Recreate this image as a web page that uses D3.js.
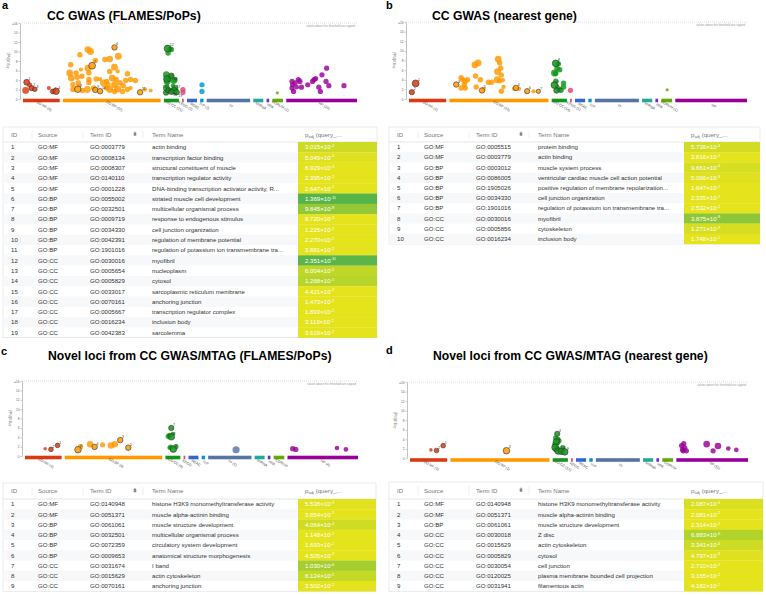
<!DOCTYPE html>
<html><head><meta charset="utf-8">
<script src="https://cdn.jsdelivr.net/npm/d3@7"></script>
<style>body{margin:0;background:#fff}svg{display:block}</style>
</head><body>
<svg id="fig" width="766" height="595"></svg>
<script>
// ================= DATA =================
const sources = ["GO:MF","GO:BP","GO:CC","KEGG","REAC","WP","TF","MIRNA","HPA","CORUM","HP"];
const yTicks = [0,2,4,6,8,10,12,14,16];
const yTickLabels = ["0","2","4","6","8","10","12","14","≥16"];
const headers = ["ID","Source","Term ID","Term Name"];

// ---- panel a ----
const titleA = "CC GWAS (FLAMES/PoPs)";
const srcA = ["GO:MF","GO:MF","GO:MF","GO:MF","GO:MF","GO:BP","GO:BP","GO:BP","GO:BP","GO:BP","GO:BP","GO:CC","GO:CC","GO:CC","GO:CC","GO:CC","GO:CC","GO:CC","GO:CC"];
const termIdA = ["GO:0003779","GO:0008134","GO:0008307","GO:0140110","GO:0001228","GO:0055002","GO:0032501","GO:0009719","GO:0034330","GO:0042391","GO:1901016","GO:0030016","GO:0005654","GO:0005829","GO:0033017","GO:0070161","GO:0005667","GO:0016234","GO:0042383"];
const termNameA = ["actin binding","transcription factor binding","structural constituent of muscle","transcription regulator activity","DNA-binding transcription activator activity, R...","striated muscle cell development","multicellular organismal process","response to endogenous stimulus","cell junction organization","regulation of membrane potential","regulation of potassium ion transmembrane tra...","myofibril","nucleoplasm","cytosol","sarcoplasmic reticulum membrane","anchoring junction","transcription regulator complex","inclusion body","sarcolemma"];
const padjA = [[3.015,-4],[5.049,-3],[8.929,-3],[2.395,-2],[2.647,-2],[1.369,-11],[9.845,-8],[8.720,-3],[1.225,-2],[2.270,-2],[3.881,-2],[2.351,-11],[6.004,-5],[1.268,-5],[4.421,-2],[1.473,-2],[1.893,-2],[3.119,-2],[3.619,-2]];
// [source, order within source (0-1), -log10(padj) or null = from table, term size, table ID]
const pointsA = [
 ["GO:MF",0.02,1.8,2000,0],["GO:MF",0.05,null,600,1],["GO:MF",0.14,3.0,300,0],["GO:MF",0.2,null,300,2],["GO:MF",0.3,null,150,3],["GO:MF",0.73,2.3,80,0],["GO:MF",0.85,null,200,5],["GO:MF",0.95,null,1500,4],
 ["GO:BP",.246,10.4,2000,0],["GO:BP",.273,10.0,2000,0],["GO:BP",.529,null,400,6],["GO:BP",.57,9.0,2000,0],["GO:BP",.478,8.4,1500,0],["GO:BP",.427,8.3,400,0],["GO:BP",.16,9.3,400,0],["GO:BP",.324,8.1,400,0],["GO:BP",.29,null,2000,7],["GO:BP",.246,6.5,2000,0],["GO:BP",.529,6.7,2000,0],["GO:BP",.061,7.2,400,0],["GO:BP",.051,5.5,2000,0],["GO:BP",.119,5.5,400,0],["GO:BP",.256,5.5,400,0],["GO:BP",.171,6.2,100,0],["GO:BP",.478,5.8,400,0],["GO:BP",.563,5.8,100,0],["GO:BP",.666,5.3,400,0],["GO:BP",.068,4.4,2000,0],["GO:BP",.13,4.6,400,0],["GO:BP",.181,4.8,400,0],["GO:BP",.256,4.1,400,0],["GO:BP",.334,4.2,400,0],["GO:BP",.375,4.2,100,0],["GO:BP",.444,3.7,400,0],["GO:BP",.505,4.4,2000,0],["GO:BP",.546,4.1,400,0],["GO:BP",.648,3.9,400,0],["GO:BP",.7,4.1,400,0],["GO:BP",.751,3.9,400,0],["GO:BP",.085,3.0,400,0],["GO:BP",.143,3.4,400,0],["GO:BP",.256,3.5,400,0],["GO:BP",.41,3.4,2000,0],["GO:BP",.461,3.0,400,0],["GO:BP",.529,3.0,2000,0],["GO:BP",.587,3.4,400,0],["GO:BP",.621,2.8,400,0],["GO:BP",.137,null,1500,8],["GO:BP",.085,2.0,400,0],["GO:BP",.188,1.8,400,0],["GO:BP",.239,2.0,2000,0],["GO:BP",.307,2.3,400,0],["GO:BP",.324,null,400,9],["GO:BP",.375,null,400,10],["GO:BP",.444,2.3,400,0],["GO:BP",.478,2.0,2000,0],["GO:BP",.529,1.6,400,0],["GO:BP",.563,2.1,2000,0],["GO:BP",.614,1.6,400,0],["GO:BP",.666,2.0,400,0],["GO:BP",.7,2.3,100,0],["GO:BP",.802,null,400,11],["GO:BP",.853,2.0,100,0],["GO:BP",.915,1.8,60,0],["GO:BP",.147,2.8,100,0],
 ["GO:CC",.156,null,2000,12],["GO:CC",.378,10.5,400,0],["GO:CC",.2,9.7,400,0],["GO:CC",.49,10.4,400,0],["GO:CC",.044,5.1,2000,0],["GO:CC",.1,null,2000,13],["GO:CC",.5,null,400,14],["GO:CC",.111,3.7,2000,0],["GO:CC",.267,4.1,400,0],["GO:CC",.711,3.9,2000,0],["GO:CC",.822,4.1,400,0],["GO:CC",.044,2.3,2000,0],["GO:CC",.156,1.8,400,0],["GO:CC",.02,null,400,15],["GO:CC",.25,null,400,16],["GO:CC",.75,null,2000,17],["GO:CC",.5,null,400,18],["GO:CC",.98,null,400,19],["GO:CC",.822,2.3,2000,0],["GO:CC",.644,2.8,100,0],["GO:CC",.111,2.8,100,0],
 ["KEGG",.5,2.0,300,0],["KEGG",.5,1.4,300,0],["WP",.3,3.0,300,0],["WP",.3,1.6,300,0],["CORUM",.44,1.3,30,0],
 ["HP",.057,3.7,300,0],["HP",.066,3.0,300,0],["HP",.057,2.3,300,0],["HP",.08,1.6,300,0],["HP",.104,3.4,300,0],["HP",.127,2.5,150,0],["HP",.151,4.1,300,0],["HP",.175,3.7,300,0],["HP",.198,2.5,300,0],["HP",.292,3.0,300,0],["HP",.363,3.7,300,0],["HP",.387,4.1,300,0],["HP",.41,4.3,300,0],["HP",.458,2.5,300,0],["HP",.481,1.6,300,0],["HP",.505,5.1,300,0],["HP",.575,6.5,300,0],["HP",.566,3.7,300,0],["HP",.608,2.8,300,0],["HP",.835,2.8,300,0]
];

// ---- panel b ----
const titleB = "CC GWAS (nearest gene)";
const srcB = ["GO:MF","GO:MF","GO:BP","GO:BP","GO:BP","GO:BP","GO:BP","GO:CC","GO:CC","GO:CC"];
const termIdB = ["GO:0005515","GO:0003779","GO:0003012","GO:0086005","GO:1905026","GO:0034330","GO:1901016","GO:0030016","GO:0005856","GO:0016234"];
const termNameB = ["protein binding","actin binding","muscle system process","ventricular cardiac muscle cell action potential","positive regulation of membrane repolarization...","cell junction organization","regulation of potassium ion transmembrane tra...","myofibril","cytoskeleton","inclusion body"];
const padjB = [[5.736,-4],[3.816,-2],[9.661,-4],[5.066,-3],[1.647,-2],[2.335,-2],[2.532,-2],[3.875,-8],[1.271,-3],[1.748,-2]];
const pointsB = [
 ["GO:MF",.026,null,300,2],["GO:MF",.14,null,2000,1],
 ["GO:BP",.051,null,400,3],["GO:BP",.102,4.4,400,0],["GO:BP",.119,4.0,400,0],["GO:BP",.146,3.7,400,0],["GO:BP",.169,4.0,400,0],["GO:BP",.136,3.0,400,0],["GO:BP",.102,2.3,400,0],["GO:BP",.146,2.3,400,0],["GO:BP",.247,7.1,2000,0],["GO:BP",.281,7.5,2000,0],["GO:BP",.254,4.8,400,0],["GO:BP",.305,4.0,400,0],["GO:BP",.261,2.5,400,0],["GO:BP",.322,null,400,5],["GO:BP",.339,2.1,100,0],["GO:BP",.39,3.5,400,0],["GO:BP",.424,3.5,400,0],["GO:BP",.492,8.3,2000,0],["GO:BP",.508,7.5,400,0],["GO:BP",.519,6.4,400,0],["GO:BP",.485,5.7,2000,0],["GO:BP",.525,5.0,400,0],["GO:BP",.481,4.0,2000,0],["GO:BP",.508,3.8,400,0],["GO:BP",.542,3.9,100,0],["GO:BP",.525,1.6,400,0],["GO:BP",.549,2.5,100,0],["GO:BP",.678,null,400,4],["GO:BP",.661,2.1,100,0],["GO:BP",.712,2.1,100,0],["GO:BP",.797,null,300,6],["GO:BP",.864,1.6,100,0],["GO:BP",.915,null,100,7],
 ["GO:CC",.186,null,2000,8],["GO:CC",.419,7.3,400,0],["GO:CC",.302,6.4,400,0],["GO:CC",.535,6.1,400,0],["GO:CC",.07,5.4,2000,0],["GO:CC",.186,5.3,400,0],["GO:CC",.07,null,2000,9],["GO:CC",.186,3.7,400,0],["GO:CC",.302,2.6,100,0],["GO:CC",.25,null,400,10],["GO:CC",.5,1.9,400,0],["GO:CC",.651,1.8,400,0],["GO:CC",.884,2.5,400,0],["GO:CC",.884,3.3,400,0],
 ["KEGG",.7,1.8,300,0],["CORUM",.57,1.9,30,0]
];

// ---- panel c ----
const titleC = "Novel loci from CC GWAS/MTAG (FLAMES/PoPs)";
const srcC = ["GO:MF","GO:MF","GO:BP","GO:BP","GO:BP","GO:BP","GO:CC","GO:CC","GO:CC"];
const termIdC = ["GO:0140948","GO:0051371","GO:0061061","GO:0032501","GO:0072359","GO:0009653","GO:0031674","GO:0015629","GO:0070161"];
const termNameC = ["histone H3K9 monomethyltransferase activity","muscle alpha-actinin binding","muscle structure development","multicellular organismal process","circulatory system development","anatomical structure morphogenesis","I band","actin cytoskeleton","anchoring junction"];
const padjC = [[5.538,-3],[3.854,-2],[4.064,-4],[1.148,-2],[1.693,-2],[4.505,-2],[1.030,-6],[8.124,-5],[3.502,-2]];
const pointsC = [
 ["GO:MF",.558,1.55,40,0],["GO:MF",.735,null,150,2],["GO:MF",.938,null,150,1],
 ["GO:BP",.12,null,1500,6],["GO:BP",.147,2.0,300,0],["GO:BP",.25,2.5,1500,0],["GO:BP",.298,null,400,4],["GO:BP",.384,2.4,300,0],["GO:BP",.473,2.25,1500,0],["GO:BP",.514,2.5,1500,0],["GO:BP",.572,null,400,3],["GO:BP",.658,null,400,5],
 ["GO:CC",.349,null,300,7],["GO:CC",.186,4.4,300,0],["GO:CC",.349,null,1500,8],["GO:CC",.07,4.2,300,0],["GO:CC",.488,4.7,100,0],["GO:CC",.302,1.9,300,0],["GO:CC",.535,null,1500,9],["GO:CC",.767,2.0,300,0],["GO:CC",.186,1.76,100,0],
 ["TF",.66,1.34,3000,0],
 ["HP",.048,1.55,300,0],["HP",.095,1.4,300,0],["HP",.714,1.7,150,0],["HP",.848,1.4,150,0]
];

// ---- panel d ----
const titleD = "Novel loci from CC GWAS/MTAG (nearest gene)";
const srcD = ["GO:MF","GO:MF","GO:BP","GO:CC","GO:CC","GO:CC","GO:CC","GO:CC","GO:CC"];
const termIdD = ["GO:0140948","GO:0051371","GO:0061061","GO:0030018","GO:0015629","GO:0005829","GO:0030054","GO:0120025","GO:0031941"];
const termNameD = ["histone H3K9 monomethyltransferase activity","muscle alpha-actinin binding","muscle structure development","Z disc","actin cytoskeleton","cytosol","cell junction","plasma membrane bounded cell projection","filamentous actin"];
const padjD = [[2.087,-3],[2.081,-2],[2.314,-2],[6.883,-6],[3.341,-4],[4.797,-3],[2.710,-2],[3.165,-2],[4.182,-2]];
const pointsD = [
 ["GO:MF",.57,1.8,40,0],["GO:MF",.737,null,150,2],["GO:MF",.939,null,150,1],
 ["GO:BP",.569,null,1500,3],
 ["GO:CC",.227,null,300,4],["GO:CC",.09,4.3,300,0],["GO:CC",.273,4.0,300,0],["GO:CC",.159,null,1500,5],["GO:CC",.386,3.7,300,0],["GO:CC",.02,3.0,300,0],["GO:CC",.045,null,2000,6],["GO:CC",.227,2.1,300,0],["GO:CC",.3,null,1500,7],["GO:CC",.6,null,1500,8],["GO:CC",.9,null,1500,9],["GO:CC",.727,2.3,300,0],["GO:CC",.09,1.9,300,0],
 ["HP",.048,2.7,300,0],["HP",.062,1.9,300,0],["HP",.071,1.6,300,0],["HP",.095,2.2,300,0],["HP",.119,1.6,300,0],["HP",.081,3.1,300,0],["HP",.419,3.0,1500,0],["HP",.514,1.6,300,0],["HP",.586,2.6,1500,0],["HP",.738,2.1,150,0],["HP",.857,1.8,150,0]
];

// ================= LAYOUT / STYLE =================
const FONT = "'Liberation Sans', Arial, Helvetica, sans-serif";
const sourceWeights = [110,293,45,5,30,10,130,30,8,32,212];
const sourceColors = {"GO:MF":"#dc3912","GO:BP":"#ff9900","GO:CC":"#109618","KEGG":"#dd4477","REAC":"#3366cc","WP":"#0099c6","TF":"#5574a6","MIRNA":"#22aa99","HPA":"#6633cc","CORUM":"#66aa00","HP":"#990099"};

const panels = [
 {key:"a", title:titleA, src:srcA, tid:termIdA, tname:termNameA, padj:padjA, pts:pointsA,
  letter:[2,8.5], titleXY:[47,20], plot:{x0:20, x1:357, top:23, zero:99},
  table:{x:3, y:127, w:374, head:15, row:10.3}},
 {key:"b", title:titleB, src:srcB, tid:termIdB, tname:termNameB, padj:padjB, pts:pointsB,
  letter:[386,8.5], titleXY:[432,20], plot:{x0:406, x1:747, top:22, zero:99},
  table:{x:389, y:127, w:371, head:15, row:10.2}},
 {key:"c", title:titleC, src:srcC, tid:termIdC, tname:termNameC, padj:padjC, pts:pointsC,
  letter:[1,355], titleXY:[48,360], plot:{x0:22, x1:358, top:381, zero:456},
  table:{x:3, y:483, w:373, head:16, row:10.25}},
 {key:"d", title:titleD, src:srcD, tid:termIdD, tname:termNameD, padj:padjD, pts:pointsD,
  letter:[386,354], titleXY:[433,360], plot:{x0:407, x1:748, top:382, zero:458.5},
  table:{x:389, y:482, w:374, head:17, row:10.25}}
];

const svg = d3.select("#fig");
svg.append("rect").attr("width",766).attr("height",595).attr("fill","#fff");

const rScale = d3.scaleLog().domain([10,5000]).range([1.2,3.8]).clamp(true);
const cellColor = d3.scaleLinear().domain([2,11]).range(["#e5e31c","#55b34a"]).clamp(true);
const negLog = pm => -Math.log10(pm[0]*Math.pow(10,pm[1]));

function drawPlot(p){
  const g = svg.append("g");
  g.append("text").attr("x",p.letter[0]).attr("y",p.letter[1]).text(p.key)
    .attr("font-family",FONT).attr("font-weight","bold").attr("font-size",11).attr("fill","#000");
  g.append("text").attr("x",p.titleXY[0]).attr("y",p.titleXY[1]).text(p.title)
    .attr("font-family",FONT).attr("font-weight","bold").attr("font-size",12.2).attr("fill","#000");

  const P = p.plot;
  const y = d3.scaleLinear().domain([0,16]).range([P.zero, P.top]);
  const ax = d3.axisLeft(y).tickValues(yTicks).tickFormat((d,i)=>yTickLabels[i]).tickSize(1.5).tickSizeOuter(0).tickPadding(1);
  const axg = g.append("g").attr("transform",`translate(${P.x0},0)`).call(ax);
  axg.select(".domain").attr("stroke","#888").attr("stroke-width",0.5);
  axg.selectAll(".tick line").attr("stroke","#888").attr("stroke-width",0.5);
  axg.selectAll(".tick text").attr("font-size",3.2).attr("fill","#666").attr("font-family",FONT);

  const yl = g.append("text").attr("transform",`translate(${P.x0-11},${(P.top+P.zero)/2}) rotate(-90)`)
    .attr("text-anchor","middle").attr("font-family",FONT).attr("font-size",3.6).attr("fill","#666");
  yl.append("tspan").text("-log");
  yl.append("tspan").attr("font-size",2.6).attr("dy",0.8).text("10");
  yl.append("tspan").attr("dy",-0.8).text("(p");
  yl.append("tspan").attr("font-size",2.6).attr("dy",0.8).text("adj");
  yl.append("tspan").attr("dy",-0.8).text(")");

  const bx0 = P.x0+3, gap = 3.2;
  const avail = P.x1 - bx0 - gap*(sources.length-1);
  const wsum = d3.sum(sourceWeights);
  const bands = {}; let cur = bx0;
  sources.forEach((s,i)=>{ const w = sourceWeights[i]/wsum*avail; bands[s] = {x:cur,w:w}; cur += w+gap; });

  g.append("line").attr("x1",P.x0).attr("x2",P.x1).attr("y1",y(16)).attr("y2",y(16))
    .attr("stroke","#bbb").attr("stroke-width",0.5).attr("stroke-dasharray","1,1");
  g.append("text").attr("x",P.x1-2).attr("y",y(16)+3.6).attr("text-anchor","end")
    .attr("font-family",FONT).attr("font-size",2.8).attr("fill","#999").text("values above this threshold are capped");

  const counts = d3.rollup(p.pts, v=>v.length, d=>d[0]);
  sources.forEach(s=>{
    const b = bands[s];
    g.append("rect").attr("x",b.x).attr("y",P.zero-0.3).attr("width",b.w).attr("height",3.6).attr("fill",sourceColors[s]);
    const n = counts.get(s)||0;
    g.append("text").attr("transform",`translate(${b.x+b.w/2+2},${P.zero+8}) rotate(30)`)
      .attr("text-anchor","middle").attr("font-family",FONT).attr("font-size",3.6).attr("fill","#555")
      .text(n>0 ? `${s} (${n})` : s);
  });

  const tableVals = p.padj.map(negLog);
  const pts = p.pts.map(d=>{
    const b = bands[d[0]];
    const xs = d3.scaleLinear().domain([0,1]).range([b.x+2, b.x+b.w-2]);
    const v = d[2]!=null ? d[2] : tableVals[d[4]-1];
    return {src:d[0], x:xs(d[1]), y:y(Math.min(v,16)), r:rScale(d[3]), id:d[4]};
  });
  const normal = pts.filter(d=>!d.id), hl = pts.filter(d=>d.id);
  g.selectAll(null).data(normal).enter().append("circle")
    .attr("cx",d=>d.x).attr("cy",d=>d.y).attr("r",d=>d.r)
    .attr("fill",d=>sourceColors[d.src]).attr("fill-opacity",0.82);
  g.selectAll(null).data(hl).enter().append("circle")
    .attr("cx",d=>d.x).attr("cy",d=>d.y).attr("r",d=>d.r)
    .attr("fill",d=>sourceColors[d.src]).attr("fill-opacity",0.85)
    .attr("stroke","#333").attr("stroke-width",0.6);

  // labels with simple collision avoidance
  const lfs = 3.4, placed = [];
  hl.sort((a,b)=>a.id-b.id).forEach(d=>{
    const w = String(d.id).length*lfs*0.56, h = lfs*0.75;
    const k = d.r*0.6;
    const cands = [[d.x+k+0.2, d.y-k-0.3],[d.x-k-0.2-w, d.y-k-0.3],[d.x+k+0.2, d.y+k+h+0.3],[d.x-k-0.2-w, d.y+k+h+0.3],
                   [d.x+k+0.2, d.y-k-0.3-h-0.5],[d.x-k-0.2-w, d.y-k-0.3-h-0.5],[d.x+d.r+0.4, d.y+h/2],[d.x-d.r-0.4-w, d.y+h/2]];
    let best = cands[0];
    for(const c of cands){
      const box = {x0:c[0]-0.2, x1:c[0]+w+0.2, y0:c[1]-h-0.2, y1:c[1]+0.2};
      if(!placed.some(q=>box.x0<q.x1 && box.x1>q.x0 && box.y0<q.y1 && box.y1>q.y0)){ best = c; break; }
    }
    placed.push({x0:best[0]-0.2, x1:best[0]+w+0.2, y0:best[1]-h-0.2, y1:best[1]+0.2});
    g.append("text").attr("x",best[0]).attr("y",best[1])
      .attr("font-family",FONT).attr("font-size",lfs).attr("fill","#333").text(d.id);
  });
}

function drawTable(p){
  const T = p.table;
  const g = svg.append("g").attr("font-family",FONT);
  const n = p.tid.length;
  const H = T.head + n*T.row;
  const colID = T.x+8, colSrc = T.x+35, colTid = T.x+87, colIcon = T.x+132, colName = T.x+149, colP = T.x+295;
  const fs = 6.1;
  g.append("rect").attr("x",T.x).attr("y",T.y).attr("width",T.w).attr("height",H)
    .attr("fill","#fff").attr("stroke","#dcdde0").attr("stroke-width",0.6);
  const hy = T.y + T.head/2 + fs*0.35;
  [[colID,headers[0]],[colSrc,headers[1]],[colTid,headers[2]],[colName,headers[3]]].forEach(h=>{
    g.append("text").attr("x",h[0]).attr("y",hy).attr("font-size",fs).attr("fill","#777").text(h[1]);
  });
  [T.x+29, T.x+80, T.x+140].forEach(xx=>{
    g.append("line").attr("x1",xx).attr("x2",xx).attr("y1",T.y+4).attr("y2",T.y+T.head-4)
      .attr("stroke","#ddd").attr("stroke-width",0.5);
  });
  const iy = T.y + T.head/2;
  g.append("rect").attr("x",colIcon-1.3).attr("y",iy-2).attr("width",2.6).attr("height",3.2).attr("fill","#888").attr("rx",0.3);
  g.append("rect").attr("x",colIcon-0.6).attr("y",iy-2.8).attr("width",1.2).attr("height",0.9).attr("fill","#888");
  const ph = g.append("text").attr("x",colP+7).attr("y",hy).attr("font-size",fs).attr("fill","#777");
  ph.append("tspan").text("p");
  ph.append("tspan").attr("font-size",4.2).attr("dy",1).text("adj");
  ph.append("tspan").attr("dy",-1).text(" (query_...");
  g.append("line").attr("x1",T.x).attr("x2",T.x+T.w).attr("y1",T.y+T.head).attr("y2",T.y+T.head)
    .attr("stroke","#d4d6da").attr("stroke-width",0.6);

  for(let i=0;i<n;i++){
    const ry = T.y + T.head + i*T.row;
    if(i%2===1) g.append("rect").attr("x",T.x+0.3).attr("y",ry).attr("width",colP-T.x-0.3).attr("height",T.row).attr("fill","#f7f8fa");
    const v = negLog(p.padj[i]);
    g.append("rect").attr("x",colP).attr("y",ry).attr("width",T.x+T.w-colP).attr("height",T.row+0.2).attr("fill",cellColor(v));
    const ty = ry + T.row/2 + fs*0.36;
    g.append("text").attr("x",colID).attr("y",ty).attr("font-size",fs).attr("fill","#333").text(i+1);
    g.append("text").attr("x",colSrc).attr("y",ty).attr("font-size",fs).attr("fill","#333").text(p.src[i]);
    g.append("text").attr("x",colTid).attr("y",ty).attr("font-size",fs).attr("fill","#333").text(p.tid[i]);
    g.append("text").attr("x",colName).attr("y",ty).attr("font-size",fs).attr("fill","#333").text(p.tname[i]);
    const pt = g.append("text").attr("x",colP+7).attr("y",ty).attr("font-size",fs).attr("fill","#fff");
    pt.append("tspan").text(p.padj[i][0].toFixed(3)+"×10");
    pt.append("tspan").attr("font-size",4).attr("dy",-2.2).text(String(p.padj[i][1]));
  }
}

panels.forEach(p=>{ drawPlot(p); drawTable(p); });
</script>
</body></html>
